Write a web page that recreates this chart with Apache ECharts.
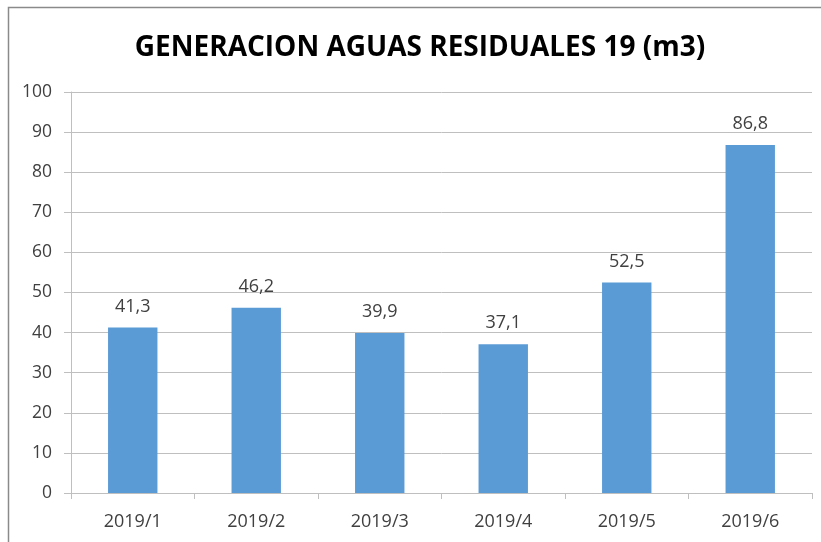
<!DOCTYPE html>
<html><head><meta charset="utf-8">
<script src="https://cdn.jsdelivr.net/npm/echarts@6/dist/echarts.min.js"></script>
<style>html,body{margin:0;padding:0;background:#fff}#c{width:821px;height:542px}</style>
</head><body><div id="c"></div>
<script>
const categories = ['2019/1','2019/2','2019/3','2019/4','2019/5','2019/6'];
const values = [41.3, 46.2, 39.9, 37.1, 52.5, 86.8];
const titleText = 'GENERACION AGUAS RESIDUALES 19 (m3)';
const font = "'Open Sans', 'Liberation Sans', sans-serif";
const chart = echarts.init(document.getElementById('c'), null, {renderer:'canvas'});
chart.setOption({
  animation:false,
  backgroundColor:'#fff',
  graphic:[
    {type:'polyline',shape:{points:[[8.5,560],[8.5,7.5],[830,7.5]]},
     style:{stroke:'#8a8a8a',lineWidth:1.5,fill:null},silent:true},
    {type:'text',x:420,y:48,silent:true,
     style:{text:titleText,fontFamily:font,fontWeight:'bold',fontSize:28,fill:'#000',
       align:'center',verticalAlign:'middle'}}
  ],
  grid:{left:71,right:9,top:92,bottom:49},
  xAxis:{type:'category',data:categories,
    axisLine:{lineStyle:{color:'#bfbfbf',width:1}},
    axisTick:{show:true,length:6,lineStyle:{color:'#bfbfbf'}},
    axisLabel:{fontFamily:font,fontSize:18,color:'#404040',margin:20}},
  yAxis:{type:'value',min:0,max:100,interval:10,
    axisLine:{show:true,lineStyle:{color:'#bfbfbf'}},
    axisTick:{show:true,length:7,inside:false,lineStyle:{color:'#bfbfbf'}},
    splitLine:{lineStyle:{color:'#bfbfbf',width:1}},
    axisLabel:{fontFamily:font,fontSize:17.5,color:'#404040',margin:19}},
  series:[{type:'bar',data:values,barWidth:'40%',
    itemStyle:{color:'#5b9bd5'},
    label:{show:true,position:'top',distance:12,fontFamily:font,fontSize:18,color:'#404040',
      formatter:p=>String(p.value).replace('.',',')}}]
});
</script></body></html>
